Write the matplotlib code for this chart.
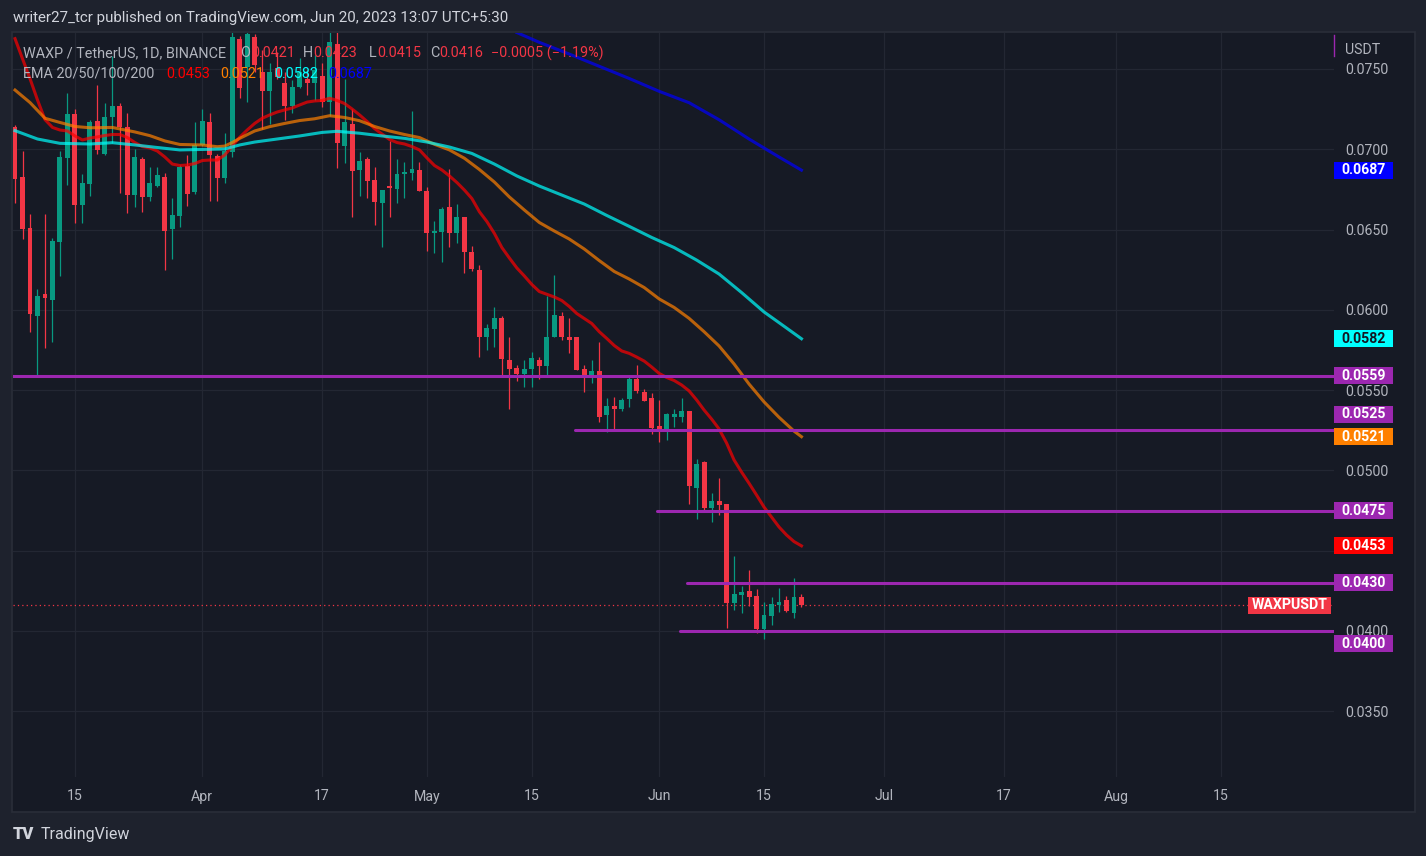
import matplotlib
matplotlib.use("Agg")
import matplotlib.pyplot as plt
import matplotlib.dates as mdates
from matplotlib.patches import Rectangle
from matplotlib.transforms import blended_transform_factory
import numpy as np
import pandas as pd

# ---- data (WAXP/USDT daily) ----
first_day = "2023-03-07"

opens = [0.07137, 0.06829, 0.06510, 0.05964, 0.06099, 0.06063, 0.06423, 0.06948, 0.07220, 0.06655,
         0.06786, 0.07176, 0.06972, 0.07203, 0.07270, 0.07137, 0.06717, 0.06939, 0.06705, 0.06773,
         0.06827, 0.06504, 0.06586, 0.06896, 0.06734, 0.07029, 0.07170, 0.06958, 0.06823, 0.06985,
         0.07685, 0.07512, 0.07701, 0.07483, 0.07365, 0.07506, 0.07411, 0.07270, 0.07386, 0.07438,
         0.07415, 0.07456, 0.07294, 0.07656, 0.07022, 0.07157, 0.06871, 0.06939, 0.06809, 0.06667,
         0.06773, 0.06755, 0.06844, 0.06854, 0.06871, 0.06740, 0.06476, 0.06482, 0.06641, 0.06476,
         0.06578, 0.06360, 0.06248, 0.05833, 0.05883, 0.05949, 0.05688, 0.05638, 0.05601, 0.05634,
         0.05688, 0.05650, 0.05831, 0.05962, 0.05831, 0.05831, 0.05632, 0.05594, 0.05619, 0.05345,
         0.05401, 0.05382, 0.05445, 0.05569, 0.05488, 0.05451, 0.05277, 0.05245, 0.05333, 0.05333,
         0.05370, 0.04892, 0.05052, 0.04766, 0.04810, 0.04791, 0.04176, 0.04224, 0.04249, 0.04218,
         0.04012, 0.04093, 0.04162, 0.04193, 0.04112, 0.04210]
highs = [0.07151, 0.06991, 0.06597, 0.06128, 0.06597, 0.06446, 0.06991, 0.07349, 0.07251, 0.06846,
         0.07182, 0.07398, 0.07286, 0.07581, 0.07290, 0.07224, 0.07000, 0.06954, 0.06892, 0.06892,
         0.06854, 0.06695, 0.06902, 0.06964, 0.07170, 0.07249, 0.07224, 0.06971, 0.07103, 0.07730,
         0.07706, 0.07730, 0.07718, 0.07618, 0.07536, 0.07606, 0.07483, 0.07431, 0.07567, 0.07494,
         0.07587, 0.07539, 0.07730, 0.07730, 0.07436, 0.07249, 0.06985, 0.06952, 0.06888, 0.06746,
         0.07052, 0.06938, 0.06921, 0.07238, 0.06918, 0.06762, 0.06553, 0.06639, 0.06875, 0.06659,
         0.06578, 0.06398, 0.06279, 0.05912, 0.06018, 0.05962, 0.05833, 0.05656, 0.05688, 0.05739,
         0.05706, 0.06086, 0.06217, 0.05987, 0.05949, 0.05831, 0.05656, 0.05688, 0.05800, 0.05449,
         0.05457, 0.05449, 0.05585, 0.05656, 0.05507, 0.05482, 0.05439, 0.05357, 0.05382, 0.05451,
         0.05370, 0.05071, 0.05059, 0.04859, 0.04953, 0.04791, 0.04467, 0.04280, 0.04380, 0.04261,
         0.04180, 0.04212, 0.04268, 0.04218, 0.04330, 0.04230]
lows = [0.06664, 0.06441, 0.05864, 0.05584, 0.05764, 0.05802, 0.06213, 0.06778, 0.06543, 0.06543,
        0.06711, 0.06971, 0.06964, 0.07041, 0.06726, 0.06601, 0.06642, 0.06611, 0.06680, 0.06765,
        0.06248, 0.06319, 0.06518, 0.06649, 0.06722, 0.07020, 0.06680, 0.06680, 0.06792, 0.06954,
        0.07318, 0.07294, 0.07481, 0.07126, 0.07157, 0.07438, 0.07182, 0.07228, 0.07380, 0.07338,
        0.07307, 0.07261, 0.07207, 0.06882, 0.06913, 0.06580, 0.06711, 0.06695, 0.06528, 0.06393,
        0.06576, 0.06664, 0.06698, 0.06809, 0.06742, 0.06368, 0.06354, 0.06295, 0.06393, 0.06418,
        0.06231, 0.06244, 0.05708, 0.05750, 0.05771, 0.05584, 0.05384, 0.05559, 0.05521, 0.05521,
        0.05571, 0.05592, 0.05831, 0.05812, 0.05733, 0.05627, 0.05490, 0.05543, 0.05303, 0.05241,
        0.05258, 0.05370, 0.05392, 0.05482, 0.05432, 0.05229, 0.05179, 0.05189, 0.05270, 0.05302,
        0.04791, 0.04697, 0.04741, 0.04679, 0.04722, 0.04019, 0.04131, 0.04114, 0.04156, 0.03987,
        0.03950, 0.04037, 0.04118, 0.04118, 0.04081, 0.04150]
closes = [0.06817, 0.06504, 0.05974, 0.06086, 0.06076, 0.06431, 0.06954, 0.07220, 0.06655, 0.06790,
          0.07170, 0.06997, 0.07199, 0.07270, 0.07137, 0.06717, 0.06952, 0.06705, 0.06788, 0.06840,
          0.06493, 0.06591, 0.06892, 0.06723, 0.07025, 0.07178, 0.06964, 0.06823, 0.06991, 0.07697,
          0.07380, 0.07718, 0.07525, 0.07365, 0.07479, 0.07450, 0.07270, 0.07386, 0.07483, 0.07415,
          0.07494, 0.07294, 0.07666, 0.07037, 0.07168, 0.06867, 0.06927, 0.06804, 0.06674, 0.06746,
          0.06757, 0.06846, 0.06859, 0.06875, 0.06742, 0.06476, 0.06491, 0.06628, 0.06476, 0.06578,
          0.06362, 0.06256, 0.05833, 0.05887, 0.05949, 0.05696, 0.05634, 0.05601, 0.05632, 0.05700,
          0.05650, 0.05831, 0.05968, 0.05831, 0.05812, 0.05627, 0.05594, 0.05619, 0.05335, 0.05401,
          0.05382, 0.05439, 0.05569, 0.05495, 0.05432, 0.05264, 0.05245, 0.05351, 0.05351, 0.05370,
          0.04903, 0.05040, 0.04766, 0.04810, 0.04785, 0.04176, 0.04230, 0.04243, 0.04212, 0.04012,
          0.04100, 0.04168, 0.04180, 0.04124, 0.04212, 0.04160]

# EMA 20, one value per candle
ema20 = [0.07689, 0.07564, 0.07440, 0.07307, 0.07185, 0.07136, 0.07120, 0.07114, 0.07083, 0.07058,
         0.07070, 0.07077, 0.07086, 0.07092, 0.07092, 0.07073, 0.07042, 0.07017, 0.07008, 0.06989,
         0.06952, 0.06908, 0.06899, 0.06902, 0.06911, 0.06930, 0.06933, 0.06933, 0.06964, 0.07020,
         0.07075, 0.07120, 0.07161, 0.07193, 0.07214, 0.07232, 0.07245, 0.07257, 0.07276, 0.07294,
         0.07301, 0.07304, 0.07318, 0.07304, 0.07285, 0.07251, 0.07214, 0.07173, 0.07129, 0.07095,
         0.07061, 0.07042, 0.07033, 0.07017, 0.06996, 0.06946, 0.06899, 0.06871, 0.06834, 0.06793,
         0.06746, 0.06693, 0.06611, 0.06550, 0.06476, 0.06388, 0.06323, 0.06261, 0.06211, 0.06158,
         0.06114, 0.06097, 0.06080, 0.06058, 0.06021, 0.05977, 0.05946, 0.05915, 0.05864, 0.05822,
         0.05778, 0.05744, 0.05729, 0.05706, 0.05681, 0.05644, 0.05604, 0.05579, 0.05560, 0.05532,
         0.05495, 0.05439, 0.05376, 0.05320, 0.05258, 0.05171, 0.05065, 0.04990, 0.04920, 0.04847,
         0.04772, 0.04710, 0.04648, 0.04598, 0.04557, 0.04530]

# EMA 50 / 100 / 200 sampled at candle offsets
ema50_days = [0, 2, 4, 6, 8, 10, 13, 16, 18, 20, 22, 25, 27, 28, 29, 30, 32, 34, 36, 38, 40, 42, 44,
              46, 48, 50, 52, 54, 56, 58, 60, 62, 64, 66, 68, 70, 72, 74, 76, 78, 80, 82, 84, 86, 88,
              90, 92, 94, 96, 98, 100, 102, 104, 105]
ema50 = [0.07369, 0.07291, 0.07193, 0.07167, 0.07142, 0.07134, 0.07136, 0.07108, 0.07085, 0.07052,
         0.07030, 0.07027, 0.07016, 0.07020, 0.07042, 0.07068, 0.07114, 0.07141, 0.07161, 0.07179,
         0.07190, 0.07209, 0.07198, 0.07178, 0.07142, 0.07114, 0.07092, 0.07073, 0.07031, 0.06996,
         0.06944, 0.06874, 0.06796, 0.06703, 0.06622, 0.06544, 0.06491, 0.06441, 0.06379, 0.06307,
         0.06239, 0.06192, 0.06139, 0.06068, 0.06015, 0.05947, 0.05864, 0.05775, 0.05663, 0.05538,
         0.05427, 0.05331, 0.05245, 0.05210]

ema100_days = [0, 3, 6, 10, 13, 16, 19, 22, 25, 28, 30, 32, 35, 38, 41, 43, 46, 49, 52, 55, 58, 61,
               64, 67, 70, 73, 76, 79, 82, 85, 88, 91, 94, 97, 100, 103, 105]
ema100 = [0.07116, 0.07064, 0.07037, 0.07033, 0.07041, 0.07027, 0.07011, 0.06996, 0.06999, 0.07002,
          0.07027, 0.07045, 0.07064, 0.07083, 0.07105, 0.07112, 0.07100, 0.07083, 0.07068, 0.07045,
          0.07014, 0.06974, 0.06908, 0.06834, 0.06771, 0.06715, 0.06659, 0.06588, 0.06520, 0.06451,
          0.06388, 0.06310, 0.06223, 0.06108, 0.05987, 0.05887, 0.05820]

ema200_days = [67, 70, 74, 78, 82, 86, 90, 94, 98, 102, 105]
ema200 = [0.07727, 0.07666, 0.07593, 0.07517, 0.07441, 0.07361, 0.07290, 0.07184, 0.07064,
          0.06952, 0.06870]

# horizontal support / resistance drawings (price, start offset in days)
levels = [0.0559, 0.0525, 0.0475, 0.0430, 0.0400]
level_starts = [-1.0, 74.8, 85.7, 89.7, 88.8]

y_ticks = [0.035, 0.040, 0.045, 0.050, 0.055, 0.060, 0.065, 0.070, 0.075]
y_tick_labels = ["0.0350", "0.0400", "", "0.0500", "0.0550", "0.0600", "0.0650", "0.0700", "0.0750"]
x_tick_dates = ["2023-03-15", "2023-04-01", "2023-04-17", "2023-05-01", "2023-05-15",
                "2023-06-01", "2023-06-15", "2023-07-01", "2023-07-17", "2023-08-01",
                "2023-08-15"]
x_tick_labels = ["15", "Apr", "17", "May", "15", "Jun", "15", "Jul", "17", "Aug", "15"]

# ---- style ----
W, H = 1426, 856
BG_OUT = "#1e222d"
BG_PANE = "#161a25"
GRID = "#232733"
TXT = "#b2b5be"
UP = "#089981"
DOWN = "#f23645"
PURPLE = "#9c27b0"
EMA_COLORS = ["#ff0000", "#ff8000", "#00ffff", "#0000ff"]

plt.rcParams["font.family"] = ["Roboto", "DejaVu Sans"]


def fx(px):
    return px / W


def fy(py):
    return 1 - py / H


fig = plt.figure(figsize=(W / 100, H / 100), dpi=100, facecolor=BG_OUT)
fig.patches.append(Rectangle((fx(12), fy(812)), fx(1415) - fx(12), fy(32) - fy(812),
                             transform=fig.transFigure, facecolor=BG_PANE,
                             edgecolor="#2a2e39", linewidth=1.2, zorder=-5))

ax = fig.add_axes([fx(13), fy(777), fx(1334) - fx(13), fy(33) - fy(777)])
ax.set_zorder(2)
ax.set_facecolor("none")
for s in ax.spines.values():
    s.set_visible(False)

dates = pd.date_range(first_day, periods=len(closes), freq="D")
x = mdates.date2num(dates)
x0 = x[0]
o = np.array(opens)
h = np.array(highs)
l = np.array(lows)
c = np.array(closes)
cols = np.where(c >= o, UP, DOWN)

ymin, ymax = 0.030906, 0.077242
ax.set_ylim(ymin, ymax)
ax.set_xlim(x0 - 0.27, x0 + 176.1)

ax.vlines(x, l, h, colors=cols, linewidth=0.9, zorder=3)
ax.bar(x, np.maximum(np.abs(c - o), 0.00006), bottom=np.minimum(o, c), width=0.66,
       color=cols, zorder=4)

# EMAs
ax.plot(x, ema20, color=EMA_COLORS[0], alpha=0.7, lw=2.2, zorder=5)
ax.plot(x0 + np.array(ema50_days), ema50, color=EMA_COLORS[1], alpha=0.7, lw=2.2, zorder=5)
ax.plot(x0 + np.array(ema100_days), ema100, color=EMA_COLORS[2], alpha=0.7, lw=2.2, zorder=5)
ax.plot(x0 + np.array(ema200_days), ema200, color=EMA_COLORS[3], alpha=0.7, lw=2.2, zorder=5)

# support / resistance lines
for lv, st in zip(levels, level_starts):
    ax.plot([x0 + st, x0 + 177], [lv, lv], color=PURPLE, lw=2.2, zorder=6,
            solid_capstyle="round")

# last price dotted line
ax.axhline(closes[-1], color=DOWN, lw=0.9, ls=(0, (1, 2.5)), zorder=2)

# axes ticks
ax.yaxis.tick_right()
ax.set_yticks(y_ticks)
ax.set_yticklabels(y_tick_labels)
ax.set_xticks(mdates.date2num(pd.to_datetime(x_tick_dates)))
ax.set_xticklabels(x_tick_labels)
ax.tick_params(axis="y", length=0, pad=8, labelsize=10.2, labelcolor=TXT)
ax.tick_params(axis="x", length=0, pad=9, labelsize=10.2, labelcolor=TXT)
ax.grid(True, color=GRID, lw=0.9, zorder=0)
ax.set_axisbelow(True)

# right price-axis labels
px_per_unit = (777 - 33) / (ymax - ymin)
box_h = 17 / px_per_unit
trans = blended_transform_factory(ax.transAxes, ax.transData)
box_w = 59 / (1334 - 13)

right_labels = [
    (ema200[-1], 0, "#0000ff", "white"),
    (ema100[-1], 0, "#00ffff", "#131722"),
    (levels[0], 0, PURPLE, "white"),
    (levels[1], -16, PURPLE, "white"),
    (ema50[-1], 0, "#ff8000", "white"),
    (levels[2], 0, PURPLE, "white"),
    (ema20[-1], 0, "#ff0000", "white"),
    (levels[3], 0, PURPLE, "white"),
    (levels[4], 13, PURPLE, "white"),
]
for val, nudge, bg, fg in right_labels:
    yc = val - nudge / px_per_unit
    ax.add_patch(Rectangle((1.0, yc - box_h / 2), box_w, box_h, transform=trans,
                           facecolor=bg, edgecolor="none", clip_on=False, zorder=8))
    ax.text(1.0 + box_w / 2, yc, f"{val:.4f}", transform=trans, ha="center", va="center",
            color=fg, fontsize=10.2, fontweight="bold", zorder=9, clip_on=False)

# symbol label inside the pane
sym_w = 83 / (1334 - 13)
sym_x = (1248 - 13) / (1334 - 13)
ax.add_patch(Rectangle((sym_x, closes[-1] - box_h / 2), sym_w, box_h, transform=trans,
                       facecolor=DOWN, edgecolor="none", zorder=8))
ax.text(sym_x + sym_w / 2, closes[-1], "WAXPUSDT", transform=trans, ha="center",
        va="center", color="white", fontsize=10.2, fontweight="bold", zorder=9)

fig.text(fx(1345), fy(50), "USDT", color=TXT, fontsize=10.2, va="center", ha="left")
fig.lines.append(plt.Line2D([fx(1334), fx(1334)], [fy(35), fy(56)], color=PURPLE, lw=1,
                            transform=fig.transFigure))

# header and legend
fig.text(fx(13), fy(18), "writer27_tcr published on TradingView.com, Jun 20, 2023 13:07 UTC+5:30",
         color="#d1d4dc", fontsize=10.9, va="center", ha="left")

leg_gray = "#b2b5be"
row1 = [
    ("WAXP / TetherUS, 1D, BINANCE", 23, leg_gray),
    ("O", 240, leg_gray), (f"{opens[-1]:.4f}", 251, DOWN),
    ("H", 303, leg_gray), (f"{highs[-1]:.4f}", 313, DOWN),
    ("L", 369, leg_gray), (f"{lows[-1]:.4f}", 377, DOWN),
    ("C", 430, leg_gray), (f"{closes[-1]:.4f}", 439, DOWN),
    ("\u22120.0005 (\u22121.19%)", 491, DOWN),
]
for txt, px, col in row1:
    fig.text(fx(px), fy(53), txt, color=col, fontsize=10.4, va="center", ha="left", zorder=10)

row2 = [("EMA 20/50/100/200", 23, leg_gray),
        (f"{ema20[-1]:.4f}", 166, EMA_COLORS[0]),
        (f"{ema50[-1]:.4f}", 220, EMA_COLORS[1]),
        (f"{ema100[-1]:.4f}", 274, EMA_COLORS[2]),
        (f"{ema200[-1]:.4f}", 328, EMA_COLORS[3])]
for txt, px, col in row2:
    fig.text(fx(px), fy(74), txt, color=col, fontsize=10.4, va="center", ha="left", zorder=10)

# footer logo
fig.text(fx(13), fy(834), "TV", color="#d1d4dc", fontsize=12, fontweight="black",
         va="center", ha="left")
fig.text(fx(41), fy(834), "TradingView", color="#d1d4dc", fontsize=11.5, va="center", ha="left")

fig.savefig("out.png", dpi=100, facecolor=BG_OUT)
